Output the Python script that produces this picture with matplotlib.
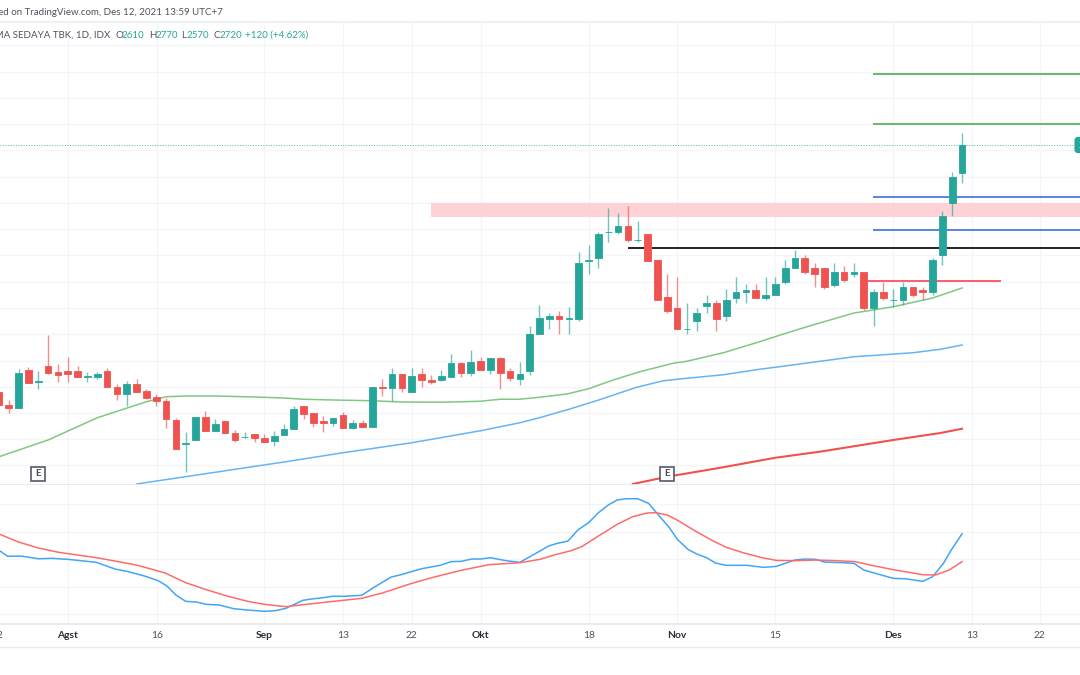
import matplotlib.pyplot as plt

# Daily candles (price scale approximate)
opens = [1733, 1680, 1668, 1820, 1774, 1836, 1811, 1816, 1816, 1794, 1793, 1816, 1753, 1725, 1764, 1737, 1711, 1696, 1620, 1526,
         1541, 1631, 1577, 1615, 1568, 1551, 1563, 1547, 1536, 1561, 1583, 1675, 1647, 1615, 1609, 1641, 1588, 1609, 1593, 1753,
         1747, 1805, 1731, 1805, 1779, 1779, 1793, 1847, 1809, 1857, 1820, 1868, 1816, 1784, 1815, 1963, 2025, 2037, 2026, 2025,
         2258, 2267, 2372, 2371, 2395, 2340, 2363, 2259, 2111, 2068, 1984, 2015, 2077, 2089, 2036, 2109, 2131, 2141, 2109, 2120,
         2171, 2227, 2268, 2227, 2227, 2160, 2213, 2203, 2213, 2067, 2131, 2099, 2099, 2151, 2140, 2131, 2279, 2487, 2610]
highs = [1740, 1700, 1823, 1831, 1816, 1960, 1843, 1873, 1836, 1811, 1811, 1827, 1763, 1775, 1784, 1743, 1723, 1708, 1627, 1573,
         1631, 1657, 1625, 1615, 1580, 1573, 1563, 1563, 1576, 1605, 1676, 1675, 1647, 1636, 1627, 1652, 1620, 1620, 1753, 1784,
         1827, 1805, 1827, 1827, 1800, 1820, 1884, 1851, 1900, 1872, 1868, 1873, 1827, 1852, 1996, 2079, 2049, 2057, 2073, 2291,
         2320, 2372, 2468, 2447, 2477, 2415, 2363, 2259, 2204, 2193, 2089, 2068, 2120, 2100, 2143, 2193, 2163, 2163, 2193, 2193,
         2260, 2300, 2279, 2247, 2227, 2247, 2237, 2247, 2213, 2143, 2173, 2143, 2173, 2151, 2151, 2268, 2456, 2613, 2770]
lows = [1672, 1648, 1668, 1767, 1744, 1804, 1773, 1773, 1791, 1773, 1783, 1751, 1700, 1676, 1731, 1703, 1676, 1589, 1505, 1413,
        1541, 1577, 1577, 1567, 1533, 1549, 1533, 1531, 1516, 1561, 1583, 1625, 1593, 1573, 1596, 1588, 1585, 1593, 1593, 1716,
        1695, 1733, 1731, 1753, 1764, 1777, 1793, 1791, 1797, 1820, 1805, 1743, 1775, 1760, 1800, 1963, 1984, 1964, 1964, 2017,
        2205, 2228, 2332, 2364, 2333, 2333, 2257, 2099, 2049, 1984, 1965, 1976, 2049, 1976, 2017, 2089, 2089, 2109, 2100, 2120,
        2163, 2227, 2205, 2153, 2143, 2153, 2173, 2193, 2060, 1997, 2100, 2071, 2079, 2111, 2100, 2121, 2239, 2436, 2570]
closes = [1680, 1668, 1807, 1767, 1776, 1809, 1799, 1804, 1793, 1796, 1804, 1751, 1725, 1764, 1731, 1709, 1695, 1625, 1505, 1528,
          1631, 1577, 1604, 1567, 1541, 1553, 1547, 1531, 1557, 1584, 1663, 1645, 1609, 1609, 1627, 1588, 1609, 1593, 1753, 1747,
          1805, 1747, 1796, 1779, 1772, 1796, 1847, 1809, 1852, 1820, 1868, 1809, 1789, 1805, 1964, 2027, 2037, 2025, 2028, 2248,
          2260, 2363, 2374, 2395, 2340, 2342, 2257, 2099, 2057, 1984, 1986, 2047, 2089, 2025, 2099, 2131, 2141, 2109, 2120, 2163,
          2227, 2268, 2213, 2203, 2151, 2213, 2181, 2213, 2067, 2131, 2109, 2101, 2151, 2120, 2131, 2259, 2435, 2593, 2720]

# Moving averages, sampled at the bars where they were read
ma_green_bar = [0, 5, 10, 15, 17, 19, 22, 26, 29, 31, 34, 38, 41, 45, 49, 51, 53, 55, 57.8, 60, 62.5, 65.2, 68.6, 70, 73.7,
                77.4, 79.5, 82.8, 87, 91, 95, 98]
ma_green = [1473, 1540, 1629, 1693, 1713, 1716, 1716, 1712, 1708, 1703, 1700, 1697, 1692, 1691, 1695, 1703, 1703, 1711, 1724,
            1745, 1780, 1813, 1847, 1855, 1889, 1933, 1960, 2000, 2048, 2073, 2108, 2148]
ma_blue_bar = [14, 29, 35, 42, 49, 53, 55, 58, 60.8, 64.9, 67.6, 70, 73.7, 77.4, 79, 87, 93, 95.8, 98]
ma_blue = [1364, 1452, 1489, 1529, 1577, 1609, 1629, 1663, 1697, 1751, 1777, 1787, 1801, 1823, 1831, 1873, 1889, 1903, 1920]
ma_red_bar = [64.5, 68, 73.4, 79, 83.5, 91, 95.8, 98]
ma_red = [1364, 1393, 1429, 1469, 1493, 1540, 1568, 1585]

# Horizontal drawings on the price pane
green_levels = [3004, 2804]
blue_levels = [2512, 2380]
black_level = 2308
red_level = 2176
zone_low, zone_high = 2432, 2488
last_close = 2720

# Lower pane oscillator
osc_blue_bar = [0.1, 0.9, 2.2, 4, 5.4, 7, 9.9, 11.8, 13, 14.8, 16.2, 17.1, 18, 19, 20.1, 21.1, 22.4, 23.9, 25.3, 27, 28.1,
                29.2, 30.9, 31.8, 33, 33.9, 35.1, 36.9, 38.1, 39.9, 40.9, 43, 44.9, 46, 47, 48.1, 49, 50, 51.6, 53, 55.05,
                55.9, 56.8, 57.9, 58.9, 60, 61, 62, 62.9, 63.8, 65, 66.1, 67.1, 68.2, 69, 70.1, 71, 72, 72.9, 74, 76.1,
                77.8, 79.1, 81, 82, 83.1, 84, 85.9, 87, 88, 89.2, 91, 92.2, 94, 95, 96.1, 96.9, 98]
osc_blue = [72, 66.5, 66.8, 64, 64.4, 63.4, 60.3, 53.4, 51, 46.2, 41.3, 35.8, 26.5, 20, 19.3, 16.9, 16.2, 12.4, 11, 9.7, 10.3,
            12.8, 21, 22.4, 23.8, 25.2, 25.2, 26.2, 34.1, 45.1, 47.5, 53.7, 57.2, 61, 61.3, 63.7, 63.7, 65.1, 62, 60.3, 72,
            77.1, 79.9, 82.3, 93.7, 101.3, 111.6, 119.5, 124.7, 126, 126, 121.2, 109.2, 96.4, 84.4, 73.7, 68.9, 65.1, 59.6, 57.2, 57.2,
            55.1, 56.1, 62.7, 63.7, 63.4, 60.6, 59.9, 59.2, 52.4, 48.9, 43.7, 43.4, 40.6, 45.5, 59.2, 73, 89.9]
osc_red_bar = [0.1, 1.9, 4, 6.1, 9.9, 12, 14.1, 16.9, 19, 21.1, 23.2, 25.3, 27, 29.2, 30.9, 33.7, 36.9, 39, 41.8, 43.9, 47,
               49.9, 53, 55.05, 56.5, 58.2, 59.3, 61, 62.9, 64.5, 65.9, 66.8, 68, 69, 70.8, 72.6, 74, 75.7, 77.5, 79.1, 81,
               83.1, 85.2, 87.1, 89, 91, 94, 95.3, 96.7, 98]
osc_red = [89.2, 81.6, 75.1, 70.6, 65.1, 61.3, 57.2, 49.3, 39.3, 32, 25.5, 20, 16.9, 14.5, 16.5, 19.6, 23.1, 28.6, 37.9, 44.1, 52,
           57.9, 59.9, 63.4, 67.9, 72.3, 76.5, 87.5, 99.5, 107.5, 111.2, 111.6, 109.2, 104, 93, 82.7, 75.8, 70.3, 65.4, 62.3, 62,
           62.7, 62, 61, 56.8, 52.7, 47.5, 47.2, 52.4, 61]

# Axis labels and gridlines
tick_bars = [-0.2, 7, 16.1, 27, 35, 42, 49, 60, 69, 79, 91, 99, 105.9]
tick_labels = ['22', 'Agst', '16', 'Sep', '13', '22', 'Okt', '18', 'Nov', '15', 'Des', '13', '22']
month_labels = ['Agst', 'Sep', 'Okt', 'Nov', 'Des']
price_grid = [3120, 3012, 2908, 2804, 2700, 2592, 2488, 2384, 2280, 2172, 2068, 1964, 1856, 1752, 1648, 1544, 1440]
osc_grid = [121, 92, 64, 35, 7]
earnings_bars = [4, 68]

up_color = '#26a69a'
down_color = '#ef5350'
grid_color = '#f4f5f8'
font = 'Lato'

W, H = 1080, 675
fig = plt.figure(figsize=(W / 100, H / 100), dpi=100, facecolor='white')

# Panes are placed in figure pixels so they line up with the screenshot
ax = fig.add_axes([0, 1 - 484.5 / H, 1, (484.5 - 22) / H])
ax2 = fig.add_axes([0, 1 - 623.5 / H, 1, (623.5 - 485) / H])

xlim = (0.102, 110.0)
ax.set_xlim(xlim)
ax.set_ylim(1362, 3212)
ax2.set_xlim(xlim)
ax2.set_ylim(-2.9, 140.2)

for a in (ax, ax2):
    a.set_xticks([b for b in tick_bars if b > xlim[0]])
    a.tick_params(length=0, labelbottom=False, labelleft=False)
    a.grid(True, color=grid_color, linewidth=0.9)
    a.set_axisbelow(True)
    for side in ('top', 'left', 'right'):
        a.spines[side].set_visible(False)
    a.spines['bottom'].set_color('#e6e7ec')
    a.spines['bottom'].set_linewidth(1.2)
ax.set_yticks(price_grid)
ax2.set_yticks(osc_grid)

# Drawings
ax.axhspan(zone_low, zone_high, xmin=(44 - xlim[0]) / (xlim[1] - xlim[0]), color='#ffcdd2', alpha=0.9, linewidth=0, zorder=1)
ax.hlines(green_levels, 88.9, 111, color='#4caf50', linewidth=1.2, zorder=2)
ax.hlines(blue_levels, 88.9, 111, color='#3d6fe0', linewidth=1.2, zorder=2)
ax.hlines(black_level, 64, 111, color='#222222', linewidth=1.4, zorder=2)
ax.hlines(red_level, 88, 102, color='#f7525f', linewidth=1.3, zorder=2)
ax.axhline(last_close, color=up_color, linestyle=':', linewidth=0.7, alpha=0.8, zorder=2)

# Moving averages
ax.plot(ma_green_bar, ma_green, color='#81c784', linewidth=1.1, zorder=2)
ax.plot(ma_blue_bar, ma_blue, color='#64b5f6', linewidth=1.1, zorder=2)
ax.plot(ma_red_bar, ma_red, color='#f0524f', linewidth=1.5, zorder=2)

# Candles
for i in range(len(opens)):
    color = up_color if closes[i] >= opens[i] else down_color
    ax.vlines(i, lows[i], highs[i], color=color, linewidth=1, alpha=0.65, zorder=3)
    bottom = min(opens[i], closes[i])
    height = abs(closes[i] - opens[i])
    ax.bar(i, height, bottom=bottom, width=0.68, color=color, edgecolor=color, linewidth=0.6, zorder=4)

# Earnings flags
ax.plot(earnings_bars, [1406] * len(earnings_bars), linestyle='none', marker='s', markersize=10, markerfacecolor='white',
        markeredgecolor='#555a66', markeredgewidth=1.2, zorder=5)
for b in earnings_bars:
    ax.text(b, 1406, 'E', fontsize=7, fontweight='bold', color='#4a4e5a', family=font, ha='center', va='center', zorder=6)

# Last price tag, mostly cut off by the right edge
ax.text(109.8, last_close, '2720', fontsize=7, color='white', family=font, ha='left', va='center', zorder=6, clip_on=False,
        bbox=dict(boxstyle='round,pad=0.3', facecolor=up_color, edgecolor=up_color))

# Oscillator
ax2.plot(osc_blue_bar, osc_blue, color='#42a5f5', linewidth=1.1)
ax2.plot(osc_red_bar, osc_red, color='#ff6b6b', linewidth=1.1)

# Date labels
for b, label in zip(tick_bars, tick_labels):
    weight = 'bold' if label in month_labels else 'normal'
    color = '#2a2e39' if label in month_labels else '#50535e'
    ax2.annotate(label, xy=(b, 0), xycoords=('data', 'axes fraction'), xytext=(0, -8.3), textcoords='offset points',
                 ha='center', va='center', fontsize=7.4, fontweight=weight, color=color, family=font, annotation_clip=False)

# Header lines, placed in figure fractions
fig.add_artist(plt.Line2D([0, 1], [1 - 22 / H, 1 - 22 / H], color='#f0f1f5', linewidth=1.6))
fig.add_artist(plt.Line2D([0, 1], [1 - 646.5 / H, 1 - 646.5 / H], color='#e9eaef', linewidth=1))
fig.text(222.5 / W, 1 - 12.5 / H, 'Published on TradingView.com, Des 12, 2021 13:59 UTC+7', fontsize=7, color='#50535e',
         family=font, ha='right', va='center')
fig.text(110 / W, 1 - 35 / H, 'AMA SEDAYA TBK, 1D, IDX', fontsize=7, color='#50535e', family=font, ha='right', va='center')
header = [(116, 'O', '#50535e'), (122, '2610', up_color), (149, 'H', '#50535e'), (155, '2770', up_color),
          (181.5, 'L', '#50535e'), (187, '2570', up_color), (213, 'C', '#50535e'), (219, '2720', up_color),
          (245, '+120 (+4.62%)', up_color)]
for px, text, color in header:
    fig.text(px / W, 1 - 35 / H, text, fontsize=7, color=color, family=font, ha='left', va='center')

fig.savefig('out.png', dpi=100)
